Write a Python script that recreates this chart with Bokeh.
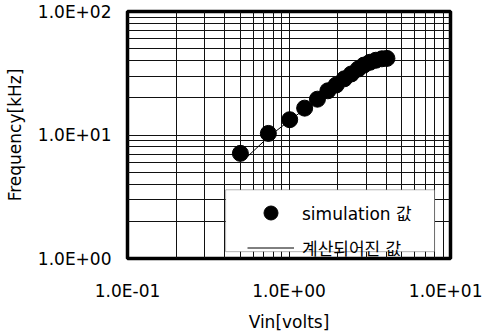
from bokeh.plotting import figure
from bokeh.models import Legend, LegendItem, BoxAnnotation, FixedTicker, Range1d
from bokeh.embed import file_html
from bokeh.resources import INLINE

# simulation values
sim_vin = [0.50, 0.745, 1.01, 1.25, 1.50, 1.74, 1.96, 2.20, 2.43, 2.68, 2.91, 3.17, 3.45, 3.76, 4.04]
sim_freq = [7.1, 10.3, 13.3, 16.5, 19.5, 22.8, 25.4, 28.5, 31.2, 34.2, 36.8, 38.8, 40.3, 41.4, 41.7]
# calculated values
calc_vin = [0.52, 0.75, 1.0, 1.25, 1.5, 2.0, 2.5, 3.0, 3.5, 3.87]
calc_freq = [6.2, 9.7, 13.0, 16.2, 19.3, 25.0, 30.5, 36.0, 41.0, 48.0]

x_ticks = [0.1, 1, 10]
x_labels = ["1.0E-01", "1.0E+00", "1.0E+01"]
y_ticks = [1, 10, 100]
y_labels = ["1.0E+00", "1.0E+01", "1.0E+02"]
x_minor = [0.2, 0.3, 0.4, 0.5, 0.6, 0.7, 0.8, 0.9, 2, 3, 4, 5, 6, 7, 8, 9]
y_minor = [2, 3, 4, 5, 6, 7, 8, 9, 20, 30, 40, 50, 60, 70, 80, 90]

FONT = "DejaVu Sans, Noto Sans CJK KR"

p = figure(width=482, height=334, x_axis_type="log", y_axis_type="log",
           x_range=Range1d(0.1, 10), y_range=Range1d(1, 100),
           output_backend="svg", toolbar_location=None, tools="",
           min_border_left=127, min_border_right=32, min_border_top=11, min_border_bottom=68)
p.background_fill_color = "white"
p.border_fill_color = "white"
p.outline_line_color = "black"
p.outline_line_width = 3.5

p.xaxis.ticker = FixedTicker(ticks=x_ticks, minor_ticks=x_minor)
p.yaxis.ticker = FixedTicker(ticks=y_ticks, minor_ticks=y_minor)
p.xaxis.major_label_overrides = {0.1: x_labels[0], 1: x_labels[1], 10: x_labels[2]}
p.yaxis.major_label_overrides = {1: y_labels[0], 10: y_labels[1], 100: y_labels[2]}

for ax in (p.xaxis, p.yaxis):
    ax.axis_line_color = None
    ax.major_tick_line_color = None
    ax.minor_tick_line_color = None
    ax.major_tick_out = 0
    ax.major_tick_in = 0
    ax.minor_tick_out = 0
    ax.minor_tick_in = 0
    ax.major_label_text_font = FONT
    ax.major_label_text_font_size = "17px"
    ax.major_label_text_color = "black"
    ax.axis_label_text_font = FONT
    ax.axis_label_text_font_size = "17px"
    ax.axis_label_text_font_style = "normal"
    ax.axis_label_text_color = "black"

p.xaxis.axis_label = "Vin[volts]"
p.yaxis.axis_label = "Frequency[kHz]"
p.xaxis.major_label_standoff = 22
p.xaxis.axis_label_standoff = 8
p.yaxis.major_label_standoff = 16
p.yaxis.axis_label_standoff = 10

for g in (p.xgrid, p.ygrid):
    g.grid_line_color = "#111111"
    g.grid_line_width = 1
    g.minor_grid_line_color = "#111111"
    g.minor_grid_line_width = 1

ln = p.line(calc_vin, calc_freq, line_color="black", line_width=1)
sc = p.scatter(sim_vin, sim_freq, size=16, marker="circle", fill_color="black", line_color="black")

box = BoxAnnotation(left=0.405, right=7.97, bottom=1.136, top=3.6,
                    fill_color="white", fill_alpha=1.0, line_color="black", line_width=1)
p.add_layout(box)

legend = Legend(items=[LegendItem(label="simulation 값", renderers=[sc]),
                       LegendItem(label="계산되어진 값", renderers=[ln])],
                location=(120, -7), padding=0, spacing=0, margin=0,
                glyph_width=47, glyph_height=35, label_standoff=8,
                border_line_color=None, background_fill_alpha=0,
                label_text_font=FONT, label_text_font_size="17px", label_text_color="black")
p.add_layout(legend)

open("out.html", "w").write(file_html(p, INLINE))
